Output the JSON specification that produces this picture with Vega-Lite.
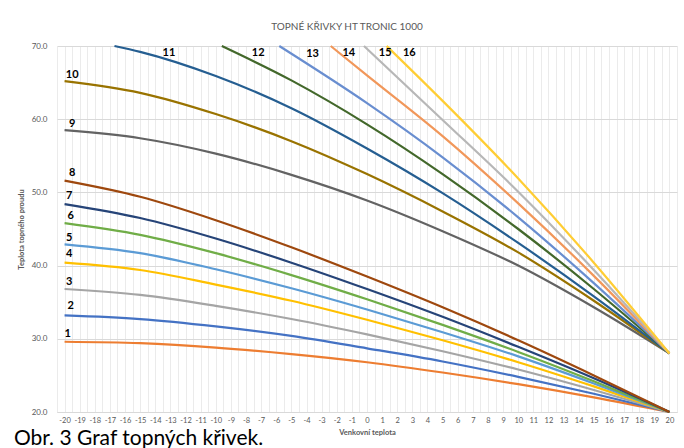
{
  "$schema": "https://vega.github.io/schema/vega-lite/v6.json",
  "autosize": "none",
  "width": 620,
  "height": 366,
  "padding": {"left": 57, "top": 46, "right": 7, "bottom": 36},
  "background": "white",
  "config": {"font": "Lato", "view": {"stroke": null}},
  "title": {"text": "TOPNÉ KŘIVKY HT TRONIC 1000", "anchor": "middle", "dx": -20, "offset": 10, "fontSize": 10, "fontWeight": "normal", "color": "#595959", "font": "Lato"},
  "resolve": {"scale": {"x": "independent"}, "axis": {"x": "independent"}},
  "datasets": {
    "curves": [
      {"k":"1","t":-20,"v":29.6},{"k":"1","t":-15,"v":29.4},{"k":"1","t":-10,"v":28.8},{"k":"1","t":-5,"v":27.9},{"k":"1","t":0,"v":26.8},{"k":"1","t":5,"v":25.4},{"k":"1","t":10,"v":23.8},{"k":"1","t":15,"v":22.0},{"k":"1","t":20,"v":20.0},
      {"k":"2","t":-20,"v":33.2},{"k":"2","t":-15,"v":32.7},{"k":"2","t":-10,"v":31.7},{"k":"2","t":-5,"v":30.4},{"k":"2","t":0,"v":28.7},{"k":"2","t":5,"v":26.9},{"k":"2","t":10,"v":24.8},{"k":"2","t":15,"v":22.5},{"k":"2","t":20,"v":20.0},
      {"k":"3","t":-20,"v":36.8},{"k":"3","t":-15,"v":36.0},{"k":"3","t":-10,"v":34.5},{"k":"3","t":-5,"v":32.7},{"k":"3","t":0,"v":30.6},{"k":"3","t":5,"v":28.3},{"k":"3","t":10,"v":25.8},{"k":"3","t":15,"v":23.0},{"k":"3","t":20,"v":20.0},
      {"k":"4","t":-20,"v":40.4},{"k":"4","t":-15,"v":39.4},{"k":"4","t":-10,"v":37.4},{"k":"4","t":-5,"v":35.2},{"k":"4","t":0,"v":32.6},{"k":"4","t":5,"v":29.8},{"k":"4","t":10,"v":26.8},{"k":"4","t":15,"v":23.5},{"k":"4","t":20,"v":20.0},
      {"k":"5","t":-20,"v":42.9},{"k":"5","t":-15,"v":41.7},{"k":"5","t":-10,"v":39.5},{"k":"5","t":-5,"v":36.9},{"k":"5","t":0,"v":34.0},{"k":"5","t":5,"v":30.9},{"k":"5","t":10,"v":27.6},{"k":"5","t":15,"v":23.9},{"k":"5","t":20,"v":20.0},
      {"k":"6","t":-20,"v":45.8},{"k":"6","t":-15,"v":44.2},{"k":"6","t":-10,"v":41.7},{"k":"6","t":-5,"v":38.7},{"k":"6","t":0,"v":35.4},{"k":"6","t":5,"v":31.9},{"k":"6","t":10,"v":28.2},{"k":"6","t":15,"v":24.2},{"k":"6","t":20,"v":20.0},
      {"k":"7","t":-20,"v":48.4},{"k":"7","t":-15,"v":46.5},{"k":"7","t":-10,"v":43.7},{"k":"7","t":-5,"v":40.4},{"k":"7","t":0,"v":36.8},{"k":"7","t":5,"v":33.0},{"k":"7","t":10,"v":28.9},{"k":"7","t":15,"v":24.6},{"k":"7","t":20,"v":20.0},
      {"k":"8","t":-20,"v":51.6},{"k":"8","t":-15,"v":49.4},{"k":"8","t":-10,"v":46.2},{"k":"8","t":-5,"v":42.5},{"k":"8","t":0,"v":38.5},{"k":"8","t":5,"v":34.3},{"k":"8","t":10,"v":29.8},{"k":"8","t":15,"v":25.0},{"k":"8","t":20,"v":20.0},
      {"k":"9","t":-20,"v":58.5},{"k":"9","t":-15,"v":57.4},{"k":"9","t":-10,"v":55.3},{"k":"9","t":-5,"v":52.4},{"k":"9","t":0,"v":48.9},{"k":"9","t":5,"v":44.7},{"k":"9","t":10,"v":40.0},{"k":"9","t":15,"v":34.3},{"k":"9","t":20,"v":28.0},
      {"k":"10","t":-20,"v":65.2},{"k":"10","t":-15,"v":63.6},{"k":"10","t":-10,"v":60.7},{"k":"10","t":-5,"v":57.0},{"k":"10","t":0,"v":52.5},{"k":"10","t":5,"v":47.4},{"k":"10","t":10,"v":41.8},{"k":"10","t":15,"v":35.2},{"k":"10","t":20,"v":28.0},
      {"k":"11","t":-16.7,"v":70.0},{"k":"11","t":-15,"v":69.2},{"k":"11","t":-10,"v":65.9},{"k":"11","t":-5,"v":61.5},{"k":"11","t":0,"v":56.0},{"k":"11","t":5,"v":49.9},{"k":"11","t":10,"v":43.1},{"k":"11","t":15,"v":35.8},{"k":"11","t":20,"v":28.0},
      {"k":"12","t":-9.6,"v":70.0},{"k":"12","t":-5,"v":65.3},{"k":"12","t":0,"v":59.3},{"k":"12","t":5,"v":52.5},{"k":"12","t":10,"v":45.0},{"k":"12","t":15,"v":36.8},{"k":"12","t":20,"v":28.0},
      {"k":"13","t":-5.8,"v":70.0},{"k":"13","t":0,"v":62.2},{"k":"13","t":5,"v":54.8},{"k":"13","t":10,"v":46.6},{"k":"13","t":15,"v":37.6},{"k":"13","t":20,"v":28.0},
      {"k":"14","t":-2.4,"v":70.0},{"k":"14","t":0,"v":66.0},{"k":"14","t":5,"v":57.7},{"k":"14","t":10,"v":48.5},{"k":"14","t":15,"v":38.6},{"k":"14","t":20,"v":28.0},
      {"k":"15","t":-0.2,"v":70.0},{"k":"15","t":5,"v":59.9},{"k":"15","t":10,"v":50.1},{"k":"15","t":15,"v":39.4},{"k":"15","t":20,"v":28.0},
      {"k":"16","t":1.3,"v":70.0},{"k":"16","t":5,"v":62.5},{"k":"16","t":10,"v":51.9},{"k":"16","t":15,"v":40.4},{"k":"16","t":20,"v":28.0}
    ],
    "labels": [
      {"k":"1","t":-19.8,"v":30.7},{"k":"2","t":-19.6,"v":34.5},{"k":"3","t":-19.7,"v":37.8},{"k":"4","t":-19.7,"v":41.6},
      {"k":"5","t":-19.7,"v":43.8},{"k":"6","t":-19.6,"v":46.8},{"k":"7","t":-19.7,"v":49.5},{"k":"8","t":-19.5,"v":52.6},
      {"k":"9","t":-19.5,"v":59.3},{"k":"10","t":-19.5,"v":66.0},{"k":"11","t":-13.1,"v":69.0},{"k":"12","t":-7.2,"v":69.0},
      {"k":"13","t":-3.6,"v":68.9},{"k":"14","t":-1.2,"v":69.1},{"k":"15","t":1.2,"v":69.0},{"k":"16","t":2.8,"v":69.0}
    ]
  },
  "layer": [
    {
      "data": {"name": "labels"},
      "mark": {"type": "text", "opacity": 0},
      "encoding": {
        "x": {"field": "t", "type": "quantitative",
          "scale": {"domain": [-20.5, 20.5], "nice": false, "zero": false},
          "axis": {"orient": "top", "title": null, "labels": false, "ticks": false, "domain": false, "grid": true, "gridColor": "#EBEBEB", "gridWidth": 1,
            "values": [-20.5,-19.5,-18.5,-17.5,-16.5,-15.5,-14.5,-13.5,-12.5,-11.5,-10.5,-9.5,-8.5,-7.5,-6.5,-5.5,-4.5,-3.5,-2.5,-1.5,-0.5,0.5,1.5,2.5,3.5,4.5,5.5,6.5,7.5,8.5,9.5,10.5,11.5,12.5,13.5,14.5,15.5,16.5,17.5,18.5,19.5,20.5]}},
        "y": {"field": "v", "type": "quantitative",
          "scale": {"domain": [20, 70], "nice": false, "zero": false},
          "axis": {"title": "Teplota topného proudu", "titleFontSize": 7.5, "titleFontWeight": "bold", "titleColor": "#595959", "titlePadding": 6,
            "values": [20,25,30,35,40,45,50,55,60,65,70], "format": ".1f", "labelOverlap": false,
            "labelFontSize": 8, "labelColor": "#595959", "labelPadding": 10,
            "ticks": false, "domain": false, "grid": true, "gridColor": "#D9D9D9", "gridWidth": 1}},
        "text": {"field": "k"}
      }
    },
    {
      "data": {"name": "curves"},
      "mark": {"type": "line", "interpolate": "monotone", "strokeWidth": 2.2},
      "encoding": {
        "x": {"field": "t", "type": "quantitative",
          "scale": {"domain": [-20.5, 20.5], "nice": false, "zero": false},
          "axis": {"orient": "bottom", "title": "Venkovní teplota", "titleFontSize": 7.5, "titleFontWeight": "bold", "titleColor": "#595959", "titlePadding": 5,
            "values": [-20,-19,-18,-17,-16,-15,-14,-13,-12,-11,-10,-9,-8,-7,-6,-5,-4,-3,-2,-1,0,1,2,3,4,5,6,7,8,9,10,11,12,13,14,15,16,17,18,19,20],
            "labelExpr": "datum.value < 0 ? '-' + abs(datum.value) : '' + datum.value",
            "labelFontSize": 7.5, "labelColor": "#595959", "labelPadding": 4, "labelOverlap": false, "labelFlush": false,
            "ticks": false, "domain": true, "domainColor": "#D9D9D9", "grid": true, "gridColor": "#EBEBEB", "gridWidth": 1}},
        "y": {"field": "v", "type": "quantitative"},
        "color": {"field": "k", "type": "nominal", "legend": null,
          "scale": {"domain": ["1","2","3","4","5","6","7","8","9","10","11","12","13","14","15","16"],
            "range": ["#ED7D31","#4472C4","#A5A5A5","#FFC000","#5B9BD5","#70AD47","#264478","#9E480E","#636363","#997300","#255E91","#43682B","#698ED0","#F1975A","#B7B7B7","#FFCD33"]}}
      }
    },
    {
      "data": {"name": "labels"},
      "mark": {"type": "text", "fontWeight": "bold", "fontSize": 11, "color": "#000000", "align": "center", "baseline": "middle"},
      "encoding": {
        "x": {"field": "t", "type": "quantitative", "scale": {"domain": [-20.5, 20.5], "nice": false, "zero": false}, "axis": null},
        "y": {"field": "v", "type": "quantitative"},
        "text": {"field": "k"}
      }
    },
    {
      "data": {"values": [{"c": "Obr. 3 Graf topných křivek."}]},
      "mark": {"type": "text", "align": "left", "baseline": "alphabetic", "fontSize": 21, "clip": false, "color": "#000000", "font": "Lato"},
      "encoding": {
        "x": {"datum": -23.35, "type": "quantitative", "scale": {"domain": [-20.5, 20.5], "nice": false, "zero": false}, "axis": null},
        "y": {"datum": 15.5, "type": "quantitative"},
        "text": {"field": "c"}
      }
    }
  ]
}
